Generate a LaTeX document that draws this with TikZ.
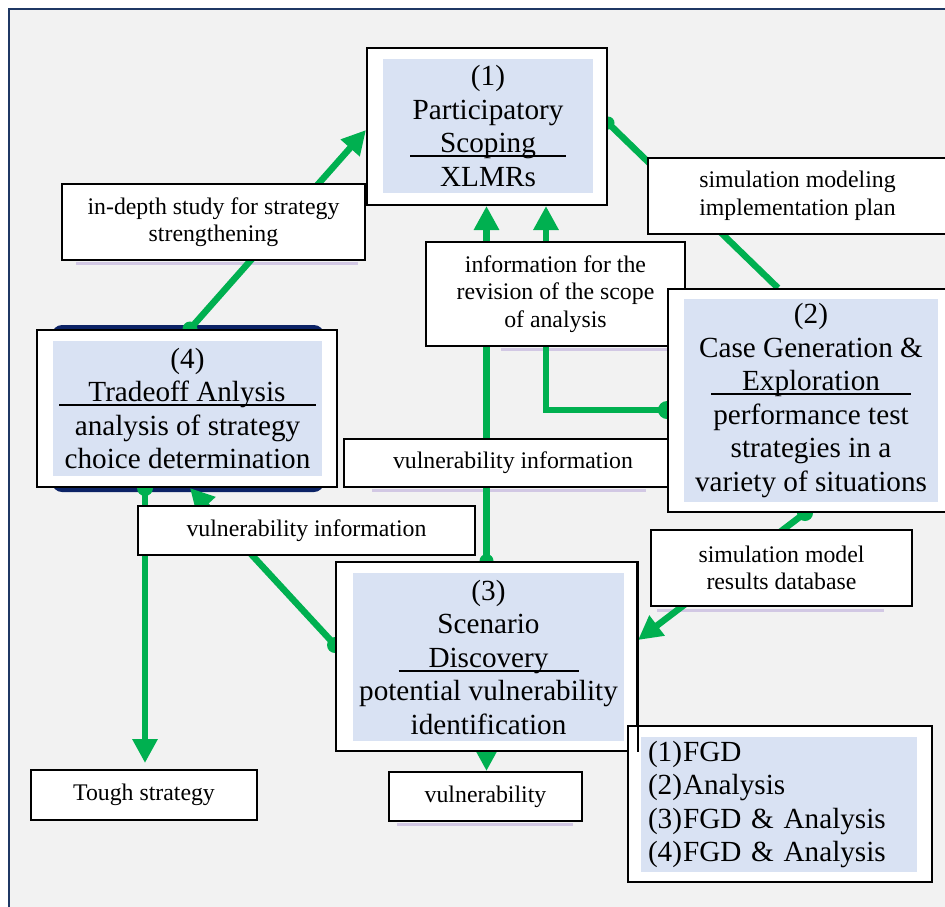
\documentclass[tikz,border=0pt]{standalone}
\usepackage{fontspec}
\setmainfont{Liberation Serif}
\usetikzlibrary{arrows.meta}
\definecolor{gr}{HTML}{00B050}
\definecolor{bxblue}{HTML}{D9E2F3}
\definecolor{framenavy}{HTML}{1F3864}
\definecolor{bandnavy}{HTML}{0C2366}
\definecolor{lav}{HTML}{D2C8E4}
\definecolor{bggrey}{HTML}{F2F2F2}
\pgfdeclarelayer{bglayer}
\pgfdeclarelayer{linelayer}
\pgfsetlayers{bglayer,linelayer,main}
\newsavebox\myulbox
\newcommand{\myuline}[3]{\sbox\myulbox{\hspace{#1}#2\hspace{#3}}\rlap{\rule[-4.5pt]{\wd\myulbox}{1.9pt}}\usebox\myulbox}
\begin{document}
\begin{tikzpicture}[x=1pt,y=-1pt,
  outer/.style={draw=black, line width=2pt, fill=white, inner sep=0pt},
  inner/.style={fill=bxblue, inner sep=0pt, align=center, font=\fontsize{29.2}{33.5}\selectfont},
  lbl/.style={draw=black, line width=2pt, fill=white, inner sep=0pt, align=center, font=\fontsize{23.8}{27.5}\selectfont},
  conn/.style={draw=gr, line width=6.5pt},
  arr/.style={conn, -{Triangle[length=24pt,width=24pt]}},
  shadowline/.style={draw=lav, line width=3pt}
]
\useasboundingbox (0,0) rectangle (945,906);

% labels
\node[lbl, minimum width=303pt, minimum height=76pt] (lind) at (213.5,222) {in-depth study for strategy\\strengthening};
\node[lbl, minimum width=299pt, minimum height=76pt] (lsim) at (797.5,196) {simulation modeling\\implementation plan};
\node[lbl, minimum width=259pt, minimum height=104pt] (linfo) at (555.5,294) {information for the\\revision of the scope\\of analysis};
\node[lbl, minimum width=338pt, minimum height=48pt] (lvm) at (513,463) {vulnerability information};
\node[lbl, minimum width=337pt, minimum height=49pt] (lvl) at (306.5,530.5) {vulnerability information};
\node[lbl, minimum width=261pt, minimum height=76pt] (lsdb) at (781.5,568) {simulation model\\results database};
\node[lbl, minimum width=226pt, minimum height=50pt] (ltough) at (144,795) {Tough strategy};
\node[lbl, minimum width=193pt, minimum height=49pt] (lvul) at (485.5,796.5) {vulnerability};

% main boxes
\node[outer, minimum width=240pt, minimum height=157pt] (b1) at (487,126.5) {};
\node[inner, minimum width=210pt, minimum height=134pt] (b1t) at (488,126) {(1)\\Participatory\\\myuline{30pt}{Scoping}{30pt}\\XLMRs};

\node[outer, minimum width=284pt, minimum height=223pt] (b2) at (810,400.5) {};
\node[inner, minimum width=254pt, minimum height=203pt] (b2t) at (811,400.5) {(2)\\Case Generation \&\\\myuline{31pt}{Exploration}{31pt}\\performance test\\strategies in a\\variety of situations};

\node[outer, minimum width=300pt, minimum height=157pt] (b4) at (187,408.5) {};
\node[inner, minimum width=269pt, minimum height=135pt] (b4t) at (187.5,408.5) {(4)\\\myuline{29pt}{Tradeoff Anlysis}{30pt}\\analysis of strategy\\choice determination};

\node[outer, minimum width=301pt, minimum height=189pt] (b3) at (486.5,656.5) {};
\node[inner, minimum width=271pt, minimum height=168pt] (b3t) at (488.5,657) {(3)\\Scenario\\\myuline{30pt}{Discovery}{30pt}\\potential vulnerability\\identification};

% legend
\node[outer, minimum width=304pt, minimum height=156pt] (leg) at (780,804) {};
\node[inner, minimum width=276pt, minimum height=135pt, text width=262pt, align=left] (legt) at (779,804.5) {(1)\kern1pt FGD\\(2)\kern1pt Analysis\\(3)\kern1pt FGD \& Analysis\\(4)\kern1pt FGD \& Analysis};
\draw[line width=2pt] (b3.north east) -- (b3.south east);

\begin{pgfonlayer}{bglayer}
  \fill[bggrey] (9,9) rectangle (960,920);
  \draw[framenavy, line width=2pt] (9,920) -- (9,9) -- (960,9);
  \fill[bandnavy, rounded corners=10pt] ([xshift=16pt,yshift=4pt]b4.north west) rectangle ([xshift=-14pt,yshift=-4pt]b4.south east);
  \draw[shadowline] ([xshift=15pt,yshift=-2.5pt]lind.south west) -- ([xshift=-8pt,yshift=-2.5pt]lind.south east);
  \draw[shadowline] ([xshift=76pt,yshift=-2.5pt]linfo.south west) -- ([xshift=-18pt,yshift=-2.5pt]linfo.south east);
  \draw[shadowline] ([xshift=29pt,yshift=-2.5pt]lvm.south west) -- ([xshift=-37pt,yshift=-2.5pt]lvm.south east);
  \draw[shadowline] ([xshift=7pt,yshift=-3.5pt]lsdb.south west) -- ([xshift=-29pt,yshift=-3.5pt]lsdb.south east);
  \draw[shadowline] ([xshift=9pt,yshift=-2.5pt]lvul.south west) -- ([xshift=-10pt,yshift=-2.5pt]lvul.south east);
\end{pgfonlayer}

\begin{pgfonlayer}{linelayer}
  \coordinate (s1) at ([xshift=3pt]b4.north);
  \draw[arr] (s1) -- ([yshift=-3.5pt]b1.west);
  \fill[gr] (s1) circle (7.5pt);

  \coordinate (s2) at ([yshift=3.5pt]b1.east);
  \draw[conn] (s2) -- ([xshift=-32pt]b2.north);
  \fill[gr] (s2) circle (6.5pt);

  \coordinate (s3) at (b3.north);
  \draw[arr] (s3) -- (s3 |- b1.south);
  \fill[gr] (s3) circle (7pt);

  \coordinate (s4) at ([yshift=-9.5pt]b2.west);
  \draw[arr] (s4) -| ([xshift=59pt]b1.south);
  \fill[gr] (s4) circle (9pt);

  \coordinate (s5) at ([xshift=-42pt]b4.south);
  \draw[arr, shorten >=6pt] (s5) -- (s5 |- ltough.north);
  \fill[gr] (s5) circle (8pt);

  \coordinate (s6) at ([yshift=11.5pt]b3.west);
  \draw[arr] (s6) -- ([xshift=3pt]b4.south);
  \fill[gr] (s6) circle (8pt);

  \coordinate (s7) at ([xshift=-5pt]b2.south);
  \draw[arr] (s7) -- ([yshift=16.5pt]b3.east);
  \fill[gr] (s7) circle (8pt);

  \draw[arr] (b3.south) -- (b3.south |- lvul.north);
\end{pgfonlayer}
\end{tikzpicture}
\end{document}
